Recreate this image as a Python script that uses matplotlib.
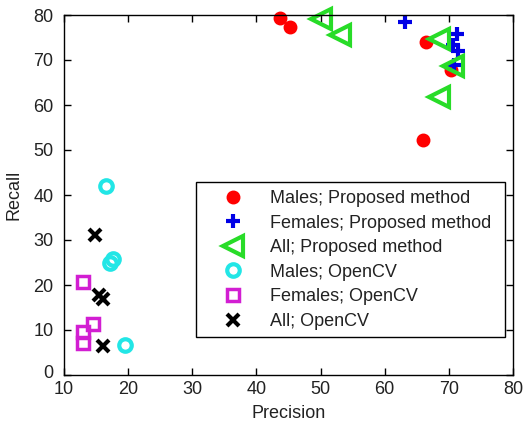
import matplotlib
matplotlib.use("Agg")
import matplotlib.pyplot as plt
from matplotlib.patches import Rectangle
import matplotlib.transforms as mtransforms

plt.rcParams['font.family'] = ['Liberation Sans', 'DejaVu Sans']

# Data (Precision, Recall)
males_prop_p = [43.7, 45.3, 66.4, 66.0, 70.3]
males_prop_r = [79.3, 77.3, 74.1, 52.2, 67.8]
females_prop_p = [63.2, 71.3, 70.6, 71.5, 70.8]
females_prop_r = [78.5, 75.8, 73.3, 72.0, 68.9]
all_prop_p = [50.0, 53.1, 68.5, 70.6, 68.5]
all_prop_r = [79.1, 75.6, 74.6, 68.7, 61.7]
males_cv_p = [16.6, 17.2, 17.7, 19.5]
males_cv_r = [42.0, 25.0, 25.7, 6.7]
females_cv_p = [12.9, 14.5, 13.0, 13.0]
females_cv_r = [20.7, 11.3, 9.6, 7.2]
all_cv_p = [14.8, 15.4, 16.1, 16.1]
all_cv_r = [31.1, 17.8, 17.0, 6.4]

labels = ["Males; Proposed method", "Females; Proposed method", "All; Proposed method",
          "Males; OpenCV", "Females; OpenCV", "All; OpenCV"]
xticks = [10, 20, 30, 40, 50, 60, 70, 80]
yticks = [0, 10, 20, 30, 40, 50, 60, 70, 80]

W, H = 526, 424
fig = plt.figure(figsize=(W/100, H/100), dpi=100)
ax = fig.add_axes([64/W, 1-375/H, (513-64)/W, (375-15)/H])

red = '#ff0000'
blue = '#0000e6'
green = '#28dc28'
cyan = '#22e6e6'
magenta = '#d21ed2'
txt = '#222222'

ax.plot(males_prop_p, males_prop_r, 'o', color=red, mfc=red, mec=red, ms=8.5, mew=1.5,
        ls='none', clip_on=False, label=labels[0])
ax.plot(females_prop_p, females_prop_r, '+', color=blue, ms=10, mew=3,
        ls='none', clip_on=False, label=labels[1])
ax.plot(all_prop_p, all_prop_r, '<', color=green, mfc='none', mec=green, ms=14, mew=3,
        ls='none', clip_on=False, label=labels[2])
ax.plot(males_cv_p, males_cv_r, 'o', color=cyan, mfc='none', mec=cyan, ms=9, mew=3,
        ls='none', clip_on=False, label=labels[3])
ax.plot(females_cv_p, females_cv_r, 's', color=magenta, mfc='none', mec=magenta, ms=9, mew=2.5,
        ls='none', clip_on=False, label=labels[4])
ax.plot(all_cv_p, all_cv_r, 'x', color='black', ms=9, mew=3,
        ls='none', clip_on=False, label=labels[5])

ax.set_xlim(10, 80)
ax.set_ylim(0, 80)
ax.set_xticks(xticks)
ax.set_yticks(yticks)
ax.tick_params(direction='in', length=5, width=1, top=True, right=True,
               labelsize=13, colors='black', labelcolor=txt)
ax.tick_params(axis='x', pad=4)
ax.tick_params(axis='y', pad=7.5)
for s in ax.spines.values():
    s.set_linewidth(1)
    s.set_color('black')

# lift the "0" y tick label slightly, as in the reference
lab0 = ax.get_yticklabels()[0]
lab0.set_transform(lab0.get_transform() + mtransforms.ScaledTranslation(0, 3/100, fig.dpi_scale_trans))

ax.set_xlabel("Precision", fontsize=13, color=txt, labelpad=5.5)
ax.set_ylabel("Recall", fontsize=13, color=txt, labelpad=8)

# legend frame (pixel box 196,182 - 505,337)
frame = Rectangle((196/W, 1-337/H), (505-196)/W, (337-182)/H, transform=fig.transFigure,
                  facecolor='white', edgecolor='black', linewidth=1, zorder=4, clip_on=False)
ax.add_patch(frame)

leg = ax.legend(loc='upper left', bbox_to_anchor=(215/W, 1-190/H),
                bbox_transform=fig.transFigure,
                fontsize=13, frameon=False, borderpad=0, labelspacing=0.42,
                handletextpad=1.05, handlelength=2.0, borderaxespad=0)
leg.set_zorder(5)
for t in leg.get_texts():
    t.set_color(txt)

fig.savefig("out.png", dpi=100)
